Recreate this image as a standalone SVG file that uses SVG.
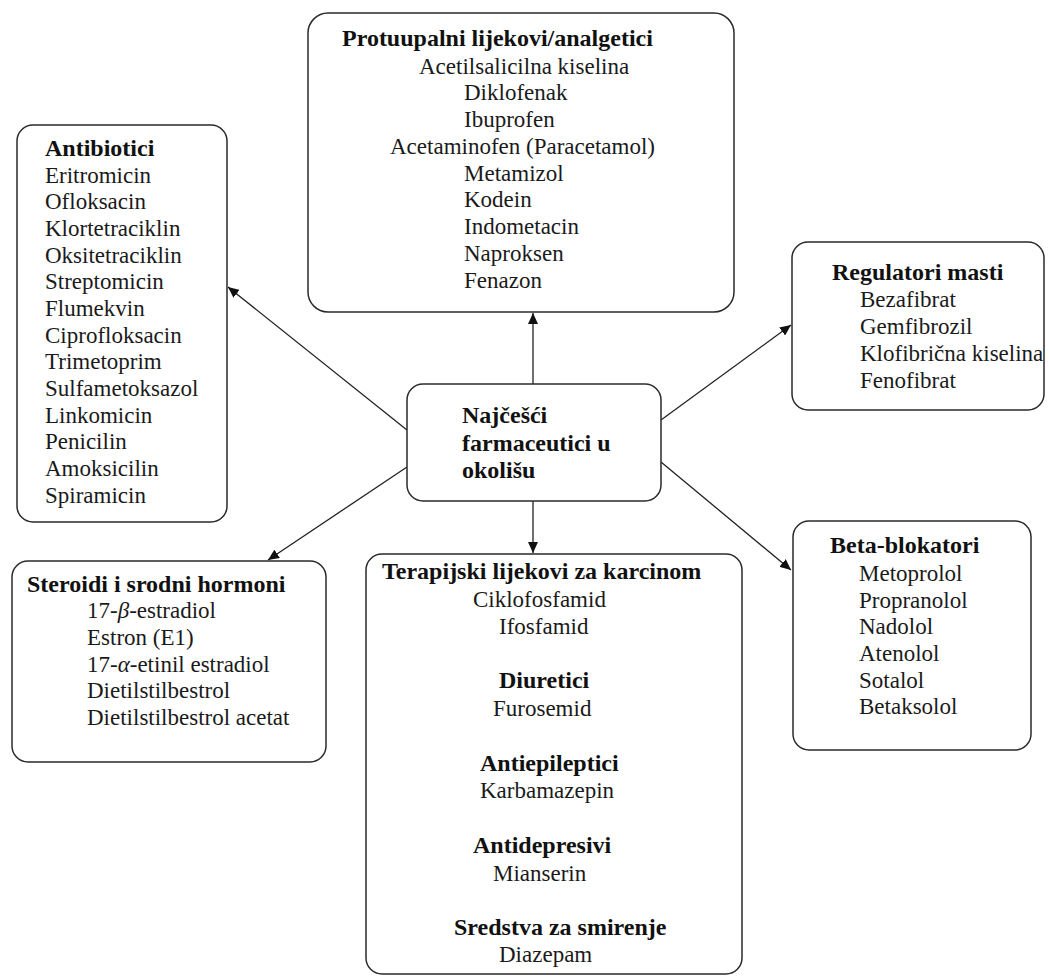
<svg xmlns="http://www.w3.org/2000/svg" width="1049" height="977" viewBox="0 0 1049 977">
<style>
.box{fill:#fff;stroke:#2a2a2a;stroke-width:1.5}
.t{font-family:'Liberation Serif','Tinos','DejaVu Serif',serif;font-size:23px;fill:#1a1a1a}
.b{font-family:'Liberation Serif','Tinos','DejaVu Serif',serif;font-size:24px;font-weight:bold;fill:#111}
.c{stroke:#222;stroke-width:1.3;fill:none;marker-end:url(#ah)}
</style>
<defs>
<marker id="ah" markerUnits="userSpaceOnUse" markerWidth="12" markerHeight="10" refX="11" refY="5" orient="auto">
<path d="M0,0 L11,5 L0,10 Z" fill="#111"/>
</marker>
</defs>
<rect width="1049" height="977" fill="#fff"/>
<g id="connectors">
<line class="c" x1="533" y1="384" x2="533" y2="313"/>
<line class="c" x1="407" y1="430" x2="228" y2="287"/>
<line class="c" x1="407" y1="467" x2="268" y2="560"/>
<line class="c" x1="661" y1="420" x2="791" y2="325"/>
<line class="c" x1="661" y1="462" x2="791" y2="570"/>
<line class="c" x1="533" y1="501" x2="533" y2="553"/>
</g>
<g id="analgetici">
<rect class="box" x="308" y="13" width="426" height="299" rx="20"/>
<text class="b" x="342" y="46">Protuupalni lijekovi/analgetici</text>
<text class="t" x="419" y="74">Acetilsalicilna kiselina</text>
<text class="t" x="464" y="100">Diklofenak</text>
<text class="t" x="464" y="127">Ibuprofen</text>
<text class="t" x="390" y="154">Acetaminofen (Paracetamol)</text>
<text class="t" x="464" y="181">Metamizol</text>
<text class="t" x="464" y="207">Kodein</text>
<text class="t" x="464" y="234">Indometacin</text>
<text class="t" x="464" y="261">Naproksen</text>
<text class="t" x="464" y="288">Fenazon</text>
</g>
<g id="antibiotici">
<rect class="box" x="17" y="125" width="210" height="397" rx="16"/>
<text class="b" x="45" y="156">Antibiotici</text>
<text class="t" x="45" y="183">Eritromicin</text>
<text class="t" x="45" y="209">Ofloksacin</text>
<text class="t" x="45" y="236">Klortetraciklin</text>
<text class="t" x="45" y="263">Oksitetraciklin</text>
<text class="t" x="45" y="289">Streptomicin</text>
<text class="t" x="45" y="316">Flumekvin</text>
<text class="t" x="45" y="343">Ciprofloksacin</text>
<text class="t" x="45" y="369">Trimetoprim</text>
<text class="t" x="45" y="396">Sulfametoksazol</text>
<text class="t" x="45" y="423">Linkomicin</text>
<text class="t" x="45" y="449">Penicilin</text>
<text class="t" x="45" y="476">Amoksicilin</text>
<text class="t" x="45" y="503">Spiramicin</text>
</g>
<g id="center">
<rect class="box" x="407" y="384" width="254" height="117" rx="16"/>
<text class="b" x="462" y="423">Najčešći</text>
<text class="b" x="462" y="451">farmaceutici u</text>
<text class="b" x="462" y="478">okolišu</text>
</g>
<g id="regulatori">
<rect class="box" x="792" y="242" width="252" height="168" rx="16"/>
<text class="b" x="832" y="280">Regulatori masti</text>
<text class="t" x="860" y="307">Bezafibrat</text>
<text class="t" x="860" y="334">Gemfibrozil</text>
<text class="t" x="860" y="361">Klofibrična kiselina</text>
<text class="t" x="860" y="388">Fenofibrat</text>
</g>
<g id="steroidi">
<rect class="box" x="12" y="561" width="314" height="201" rx="16"/>
<text class="b" x="27" y="592">Steroidi i srodni hormoni</text>
<text class="t" x="87" y="618">17-<tspan font-style="italic">β</tspan>-estradiol</text>
<text class="t" x="87" y="645">Estron (E1)</text>
<text class="t" x="87" y="672">17-<tspan font-style="italic">α</tspan>-etinil estradiol</text>
<text class="t" x="87" y="698">Dietilstilbestrol</text>
<text class="t" x="87" y="725">Dietilstilbestrol acetat</text>
</g>
<g id="terapijski">
<rect class="box" x="366" y="554" width="376" height="420" rx="16"/>
<text class="b" x="382" y="579">Terapijski lijekovi za karcinom</text>
<text class="t" x="473" y="607">Ciklofosfamid</text>
<text class="t" x="499" y="634">Ifosfamid</text>
<text class="b" x="499" y="688">Diuretici</text>
<text class="t" x="493" y="716">Furosemid</text>
<text class="b" x="480" y="771">Antiepileptici</text>
<text class="t" x="480" y="798">Karbamazepin</text>
<text class="b" x="473" y="853">Antidepresivi</text>
<text class="t" x="493" y="881">Mianserin</text>
<text class="b" x="454" y="935">Sredstva za smirenje</text>
<text class="t" x="499" y="962">Diazepam</text>
</g>
<g id="beta">
<rect class="box" x="793" y="521" width="238" height="229" rx="16"/>
<text class="b" x="830" y="553">Beta-blokatori</text>
<text class="t" x="859" y="581">Metoprolol</text>
<text class="t" x="859" y="608">Propranolol</text>
<text class="t" x="859" y="634">Nadolol</text>
<text class="t" x="859" y="661">Atenolol</text>
<text class="t" x="859" y="688">Sotalol</text>
<text class="t" x="859" y="714">Betaksolol</text>
</g>
</svg>
